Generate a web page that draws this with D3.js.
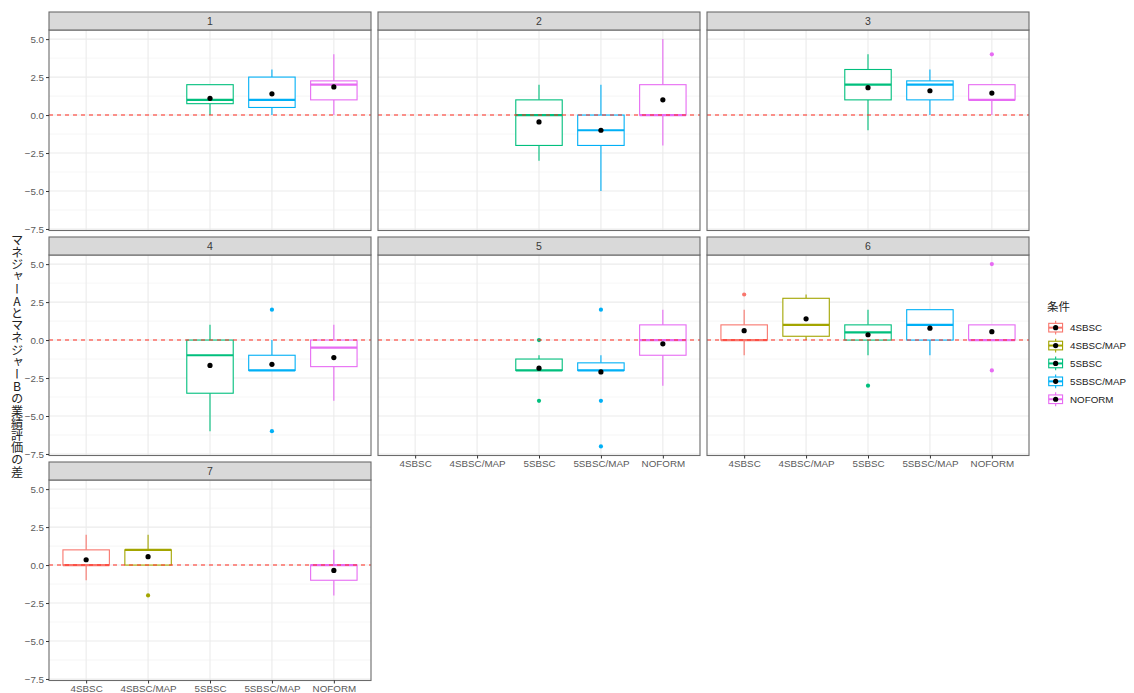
<!DOCTYPE html>
<html>
<head>
<meta charset="utf-8">
<script src="https://cdn.jsdelivr.net/npm/d3@7"></script>
<style>
  html, body { margin: 0; padding: 0; background: #fff; }
  svg { display: block; }
  text { font-family: "Liberation Sans", "DejaVu Sans", sans-serif; }
</style>
</head>
<body>
<svg id="chart" width="1134" height="693"></svg>
<script>
// Facet labels (one panel per group) and the five conditions on the x axis
const panels = ["1", "2", "3", "4", "5", "6", "7"];
const conditions = ["4SBSC", "4SBSC/MAP", "5SBSC", "5SBSC/MAP", "NOFORM"];
const conditionColors = ["#F8766D", "#A3A500", "#00BF7D", "#00B0F6", "#E76BF3"];

// Box statistics: [panel, condition, whiskerLow, q1, median, q3, whiskerHigh, mean]
const boxStats = [
  ["1", "5SBSC",      0,    0.75,  1,    2,    2,    1.1],
  ["1", "5SBSC/MAP",  0,    0.5,   1,    2.5,  3,    1.4],
  ["1", "NOFORM",     0,    1,     2,    2.25, 4,    1.85],
  ["2", "5SBSC",     -3,   -2,     0,    1,    2,   -0.45],
  ["2", "5SBSC/MAP", -5,   -2,    -1,    0,    2,   -1.0],
  ["2", "NOFORM",    -2,    0,     0,    2,    5,    1.0],
  ["3", "5SBSC",     -1,    1,     2,    3,    4,    1.8],
  ["3", "5SBSC/MAP",  0,    1,     2,    2.25, 3,    1.6],
  ["3", "NOFORM",     0,    1,     1,    2,    2,    1.45],
  ["4", "5SBSC",     -6,   -3.5,  -1,    0,    1,   -1.67],
  ["4", "5SBSC/MAP", -2,   -2,    -2,   -1,    0,   -1.6],
  ["4", "NOFORM",    -4,   -1.75, -0.5,  0,    1,   -1.15],
  ["5", "5SBSC",     -2,   -2,    -2,   -1.25, -1,  -1.85],
  ["5", "5SBSC/MAP", -2,   -2,    -2,   -1.5, -1,   -2.1],
  ["5", "NOFORM",    -3,   -1,     0,    1,    2,   -0.25],
  ["6", "4SBSC",     -1,    0,     0,    1,    2,    0.62],
  ["6", "4SBSC/MAP",  0,    0.25,  1,    2.75, 3,    1.4],
  ["6", "5SBSC",     -1,    0,     0.5,  1,    2,    0.35],
  ["6", "5SBSC/MAP", -1,    0,     1,    2,    2,    0.78],
  ["6", "NOFORM",     0,    0,     0,    1,    1,    0.55],
  ["7", "4SBSC",     -1,    0,     0,    1,    2,    0.35],
  ["7", "4SBSC/MAP",  0,    0,     1,    1,    2,    0.55],
  ["7", "NOFORM",    -2,   -1,     0,    0,    1,   -0.35]
];

// Outlying observations: [panel, condition, value]
const outliers = [
  ["3", "NOFORM", 4],
  ["4", "5SBSC/MAP", 2], ["4", "5SBSC/MAP", -6],
  ["5", "5SBSC", 0], ["5", "5SBSC", -4],
  ["5", "5SBSC/MAP", 2], ["5", "5SBSC/MAP", -4], ["5", "5SBSC/MAP", -7],
  ["6", "4SBSC", 3], ["6", "5SBSC", -3],
  ["6", "NOFORM", 5], ["6", "NOFORM", -2],
  ["7", "4SBSC/MAP", -2]
];

const yTicks = [-7.5, -5, -2.5, 0, 2.5, 5];
const yMinor = [-6.25, -3.75, -1.25, 1.25, 3.75];
const yDomain = [-7.6, 5.6];
const refLine = 0;
const yTitle = "マネジャーAとマネジャーBの業績評価の差";
const legendTitle = "条件";

const svg = d3.select("#chart");
const color = d3.scaleOrdinal().domain(conditions).range(conditionColors);

// Facet grid geometry
const nCols = 3;
const panelLeft = 49, panelW = 322, colPitch = 329;
const stripTop = 12, stripH = 18, plotH = 200.5, rowPitch = 225;

const layout = panels.map((p, i) => {
  const col = i % nCols, row = Math.floor(i / nCols);
  const x0 = panelLeft + col * colPitch;
  const top = stripTop + row * rowPitch;
  return { id: p, col, row, x0, stripY: top, y0: top + stripH, y1: top + stripH + plotH };
});
function hasPanelBelow(l) {
  return layout.some(o => o.col === l.col && o.row === l.row + 1);
}

const fmt = d3.format(".1f");
const axisFont = 9.8;

layout.forEach(l => {
  const g = svg.append("g");
  const x = d3.scalePoint().domain(conditions).range([l.x0, l.x0 + panelW]).padding(0.6);
  const y = d3.scaleLinear().domain(yDomain).range([l.y1, l.y0]);
  const boxW = x.step() * 0.75;

  // Panel background and grid
  g.append("rect").attr("x", l.x0).attr("y", l.y0).attr("width", panelW).attr("height", plotH).attr("fill", "#fff");
  g.selectAll(".minor").data(yMinor).join("line")
    .attr("x1", l.x0).attr("x2", l.x0 + panelW)
    .attr("y1", d => y(d)).attr("y2", d => y(d))
    .attr("stroke", "#F0F0F0").attr("stroke-width", 0.6);
  g.selectAll(".majorY").data(yTicks).join("line")
    .attr("x1", l.x0).attr("x2", l.x0 + panelW)
    .attr("y1", d => y(d)).attr("y2", d => y(d))
    .attr("stroke", "#EBEBEB").attr("stroke-width", 1.1);
  g.selectAll(".majorX").data(conditions).join("line")
    .attr("x1", d => x(d)).attr("x2", d => x(d))
    .attr("y1", l.y0).attr("y2", l.y1)
    .attr("stroke", "#EBEBEB").attr("stroke-width", 1.1);

  // Boxplots
  const rows = boxStats.filter(r => r[0] === l.id);
  rows.forEach(r => {
    const [, cond, wlo, q1, med, q3, whi] = r;
    const cx = x(cond), c = color(cond);
    const bg = g.append("g").attr("stroke", c).attr("fill", "none");
    if (whi > q3) bg.append("line").attr("x1", cx).attr("x2", cx).attr("y1", y(q3)).attr("y2", y(whi)).attr("stroke-width", 1.1);
    if (wlo < q1) bg.append("line").attr("x1", cx).attr("x2", cx).attr("y1", y(q1)).attr("y2", y(wlo)).attr("stroke-width", 1.1);
    bg.append("rect")
      .attr("x", cx - boxW / 2).attr("width", boxW)
      .attr("y", y(q3)).attr("height", Math.max(0, y(q1) - y(q3)))
      .attr("fill", "#fff").attr("stroke-width", 1.1);
    bg.append("line")
      .attr("x1", cx - boxW / 2).attr("x2", cx + boxW / 2)
      .attr("y1", y(med)).attr("y2", y(med))
      .attr("stroke-width", 2.2);
  });

  // Outliers
  g.selectAll(".out").data(outliers.filter(o => o[0] === l.id)).join("circle")
    .attr("cx", d => x(d[1])).attr("cy", d => y(d[2])).attr("r", 2.1)
    .attr("fill", d => color(d[1]));

  // Reference line at zero
  g.append("line")
    .attr("x1", l.x0).attr("x2", l.x0 + panelW)
    .attr("y1", y(refLine)).attr("y2", y(refLine))
    .attr("stroke", "#FF2A1F").attr("stroke-width", 1.1)
    .attr("stroke-dasharray", "4,4");

  // Group means
  g.selectAll(".mean").data(rows).join("circle")
    .attr("cx", d => x(d[1])).attr("cy", d => y(d[7])).attr("r", 2.6)
    .attr("fill", "#000");

  // Panel border
  g.append("rect").attr("x", l.x0).attr("y", l.y0).attr("width", panelW).attr("height", plotH)
    .attr("fill", "none").attr("stroke", "#6b6b6b").attr("stroke-width", 1.1);

  // Strip
  g.append("rect").attr("x", l.x0).attr("y", l.stripY).attr("width", panelW).attr("height", stripH)
    .attr("fill", "#D9D9D9").attr("stroke", "#6b6b6b").attr("stroke-width", 1.1);
  g.append("text").attr("x", l.x0 + panelW / 2).attr("y", l.stripY + stripH / 2)
    .attr("dy", "0.36em").attr("text-anchor", "middle")
    .attr("font-size", 10.5).attr("fill", "#3a3a3a").text(l.id);

  // Y axis on the first column
  if (l.col === 0) {
    const ax = g.append("g").attr("transform", `translate(${l.x0},0)`)
      .call(d3.axisLeft(y).tickValues(yTicks).tickFormat(fmt).tickSize(3).tickPadding(2));
    ax.select(".domain").remove();
    ax.selectAll(".tick line").attr("stroke", "#333");
    ax.selectAll(".tick text").attr("fill", "#5a5a5a").attr("font-size", axisFont)
      .attr("font-family", "Liberation Sans, sans-serif");
  }
  // X axis under the lowest panel of each column
  if (!hasPanelBelow(l)) {
    const ax = g.append("g").attr("transform", `translate(0,${l.y1})`)
      .call(d3.axisBottom(x).tickSize(3).tickPadding(2));
    ax.select(".domain").remove();
    ax.selectAll(".tick line").attr("stroke", "#333");
    ax.selectAll(".tick text").attr("fill", "#5a5a5a").attr("font-size", axisFont)
      .attr("font-family", "Liberation Sans, sans-serif");
  }
});

// Y-axis title set in vertical writing, characters upright
svg.append("text").attr("class", "y-title")
  .attr("x", 17).attr("y", 356)
  .attr("text-anchor", "middle")
  .style("writing-mode", "vertical-rl")
  .style("text-orientation", "upright")
  .style("font-family", "'Noto Sans CJK JP', sans-serif")
  .attr("font-size", 12.2).attr("fill", "#222")
  .text(yTitle);

// Legend
const lg = svg.append("g").attr("transform", "translate(1047,0)");
lg.append("text").attr("x", 0).attr("y", 311)
  .style("font-family", "'Noto Sans CJK JP', sans-serif")
  .attr("font-size", 11.5).attr("fill", "#222").text(legendTitle);
const keySize = 17.3, keyTop = 319, keyPitch = 17.9;
conditions.forEach((c, i) => {
  const ky = keyTop + i * keyPitch;
  const k = lg.append("g").attr("transform", `translate(0,${ky})`);
  k.append("line").attr("x1", keySize / 2).attr("x2", keySize / 2)
    .attr("y1", keySize * 0.1).attr("y2", keySize * 0.9)
    .attr("stroke", color(c)).attr("stroke-width", 1.1);
  k.append("rect").attr("x", keySize * 0.1).attr("width", keySize * 0.8)
    .attr("y", keySize * 0.25).attr("height", keySize * 0.5)
    .attr("fill", "#fff").attr("stroke", color(c)).attr("stroke-width", 1.1);
  k.append("line").attr("x1", keySize * 0.1).attr("x2", keySize * 0.9)
    .attr("y1", keySize / 2).attr("y2", keySize / 2)
    .attr("stroke", color(c)).attr("stroke-width", 2);
  k.append("circle").attr("cx", keySize / 2).attr("cy", keySize / 2).attr("r", 2.6).attr("fill", "#000");
  k.append("text").attr("x", 23).attr("y", keySize / 2).attr("dy", "0.35em")
    .attr("font-size", axisFont).attr("fill", "#222").text(c);
});
</script>
</body>
</html>
